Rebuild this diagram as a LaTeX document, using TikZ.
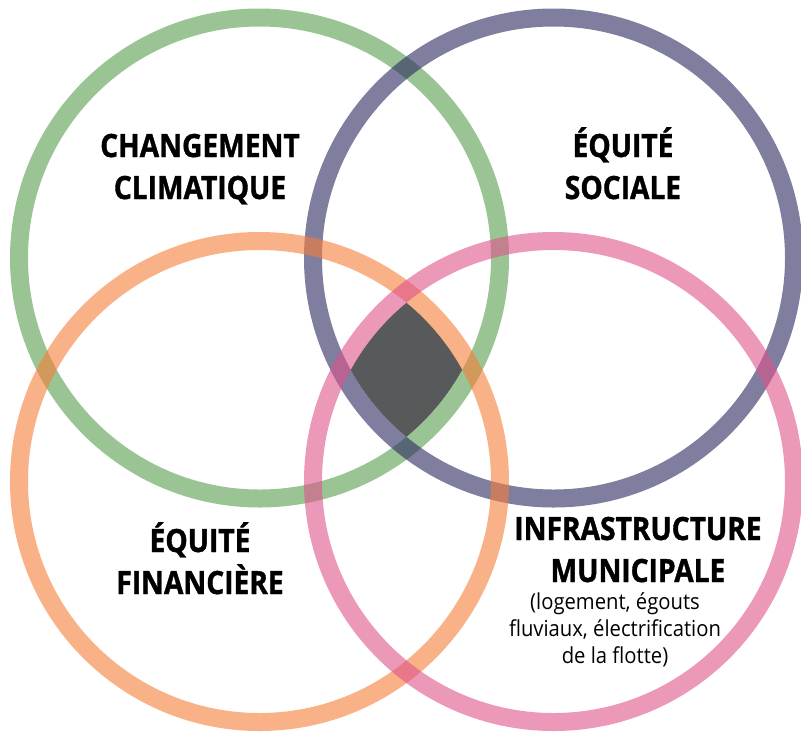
\documentclass[tikz,border=0pt]{standalone}
\usepackage{fontspec}
\setmainfont{Open Sans}
\newfontfamily\headfont{Open Sans}[FakeStretch=0.88,BoldFeatures={FakeBold=1.2}]
\newfontfamily\notefont{Open Sans}[FakeStretch=0.92]
\usetikzlibrary{positioning}

\definecolor{climatgreen}{RGB}{88,157,78}
\definecolor{socialpurple}{RGB}{42,40,95}
\definecolor{financeorange}{RGB}{245,125,55}
\definecolor{infrapink}{RGB}{222,83,138}
\definecolor{coregray}{RGB}{88,89,91}

\begin{document}
\begin{tikzpicture}[
  x=1pt,y=-1pt,
  ring/.style={line width=18pt,draw opacity=0.6},
  heading/.style={font=\headfont\bfseries\fontsize{32}{42}\selectfont,
    align=center,inner sep=0pt},
  note/.style={font=\notefont\fontsize{22}{27}\selectfont,align=center,
    inner sep=0pt}
]
\useasboundingbox (0,0) rectangle (801,732);

% circle centres
\coordinate (cc) at (259.5,258);
\coordinate (cs) at (553.5,258);
\coordinate (cf) at (259.5,481.5);
\coordinate (ci) at (553.5,481.5);

% shared core of all four
\begin{scope}
  \clip (cc) circle[radius=231.5];
  \clip (cs) circle[radius=231.5];
  \clip (cf) circle[radius=231.5];
  \fill[coregray] (ci) circle[radius=231.5];
\end{scope}

\draw[ring,climatgreen] (cc) circle[radius=240.5];
\draw[ring,socialpurple] (cs) circle[radius=240.5];
\draw[ring,financeorange] (cf) circle[radius=240.5];
\draw[ring,infrapink] (ci) circle[radius=240.5];

% base anchor sits on the last line
\node[heading,anchor=base] (climat) at (200,199) {CHANGEMENT\\CLIMATIQUE};
\node[heading,anchor=base] (social) at (623,199) {ÉQUITÉ\\SOCIALE};
\node[heading,anchor=base] (finance) at (200,594) {ÉQUITÉ\\FINANCIÈRE};
\node[heading,anchor=base] (infra) at (638,582) {INFRASTRUCTURE\\MUNICIPALE};
\node[note,anchor=base] (infranote) at (615,663)
  {(logement, égouts\\fluviaux, électrification\\de la flotte)};
\end{tikzpicture}
\end{document}
